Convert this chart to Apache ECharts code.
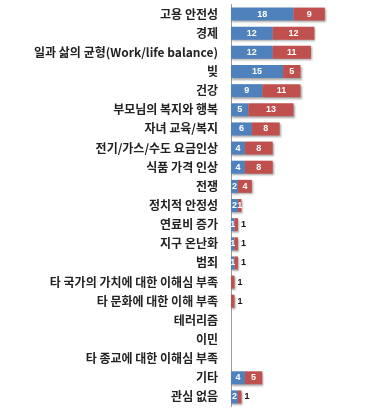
<!DOCTYPE html>
<html><head><meta charset="utf-8">
<script src="https://cdn.jsdelivr.net/npm/echarts@6/dist/echarts.min.js"></script>
<style>html,body{margin:0;padding:0;background:#fff}#c{width:392px;height:412px}</style>
</head><body><div id="c"></div>
<script>
const categories = ['고용 안전성','경제','일과 삶의 균형(Work/life balance)','빚','건강','부모님의 복지와 행복','자녀 교육/복지','전기/가스/수도 요금인상','식품 가격 인상','전쟁','정치적 안정성','연료비 증가','지구 온난화','범죄','타 국가의 가치에 대한 이해심 부족','타 문화에 대한 이해 부족','테러리즘','이민','타 종교에 대한 이해심 부족','기타','관심 없음'];
const blueValues = [18,12,12,15,9,5,6,4,4,2,2,1,1,1,0,0,0,0,0,4,2];
const redValues = [9,12,11,5,11,13,8,8,8,4,1,1,1,1,1,1,0,0,0,5,1];

const fontFam = '"Noto Sans CJK KR","Noto Sans",sans-serif';
const shadow = {shadowBlur:2, shadowOffsetX:1, shadowOffsetY:1.5, shadowColor:'rgba(0,0,0,0.35)'};
const inLabel = {show:true, position:'inside', color:'#fff', fontSize:9, fontWeight:'bold', fontFamily:'Arial, sans-serif',
  formatter: p => p.value ? String(p.value) : ''};
const outLabel = {show:true, position:'right', color:'#111', fontSize:9, fontWeight:'bold', fontFamily:'Arial, sans-serif', distance:3};

const redData = redValues.map((v,i) => (v === 1 && i !== 10) ? {value:v, label:outLabel} : v);

const chart = echarts.init(document.getElementById('c'));
chart.setOption({
  animation:false,
  grid:{left:231, right:22, top:4.5, bottom:5.5, containLabel:false},
  xAxis:{type:'value', min:0, max:40, show:false},
  yAxis:{type:'category', inverse:true, data:categories,
    axisLine:{show:true, lineStyle:{color:'#9a9a9a', width:1}},
    axisTick:{show:false},
    axisLabel:{color:'#222', fontSize:12, fontWeight:'bold', fontFamily:fontFam, margin:13}},
  series:[
    {type:'bar', stack:'a', data:blueValues, barWidth:13, itemStyle:Object.assign({color:'#4F81BD'}, shadow), label:inLabel},
    {type:'bar', stack:'a', data:redData, barWidth:13, itemStyle:Object.assign({color:'#C0504D'}, shadow), label:inLabel}
  ]
});
</script></body></html>
